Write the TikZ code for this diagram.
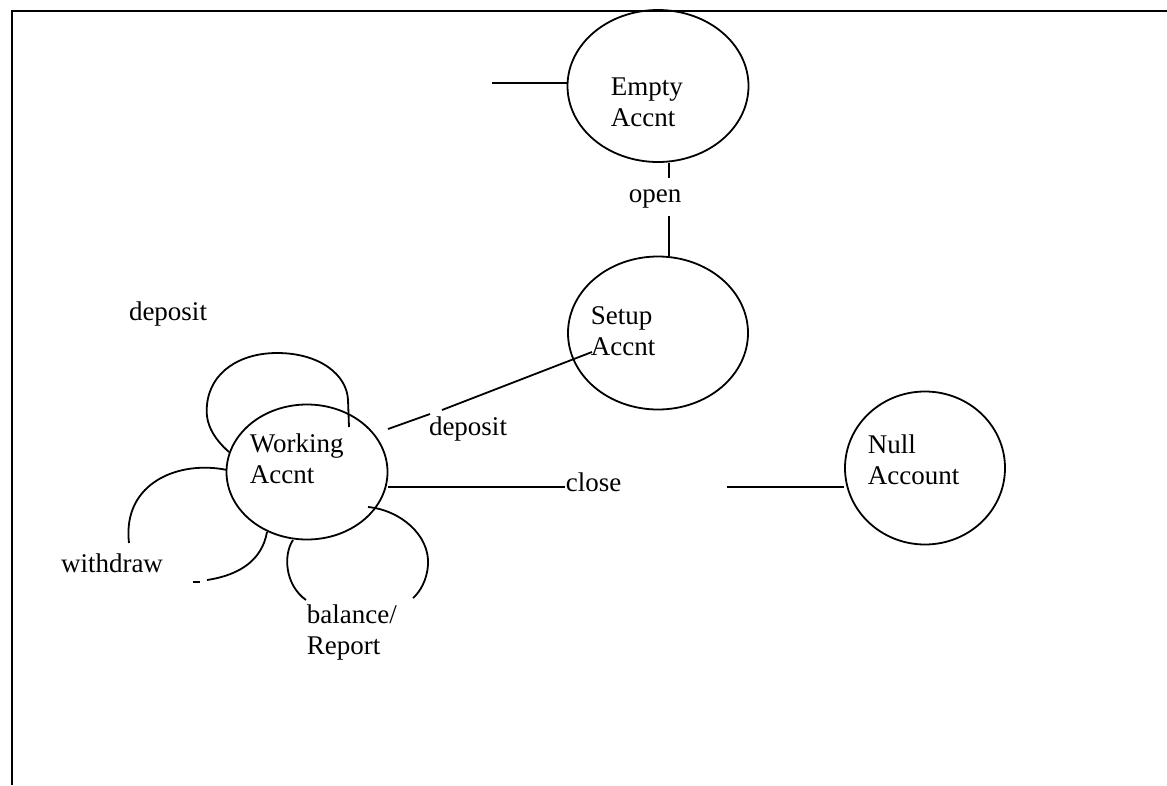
\documentclass[tikz,border=0pt]{standalone}
\usepackage{fontspec}
\setmainfont{Liberation Serif}
\usetikzlibrary{shapes.geometric}
\begin{document}
\begin{tikzpicture}[x=1pt, y=-1pt, line width=1.8pt,
  state/.style={ellipse, draw, inner sep=0pt},
  lbl/.style={inner sep=0pt, font=\fontsize{27}{31}\selectfont},
  statetext/.style={lbl, anchor=west, align=left}]
\useasboundingbox (0,0) rectangle (1167,785);

% page frame (top and left edges)
\draw[line width=2.2pt] (12,785) -- (12,11) -- (1167,11);

% states
\node[state, minimum width=181pt, minimum height=152pt] (empty) at (658,86) {};
\node[state, minimum width=180pt, minimum height=153pt] (setup) at (658,333) {};
\node[state, minimum width=161pt, minimum height=135pt] (working) at (307,472) {};
\node[state, minimum width=160pt, minimum height=153pt] (null) at (925,468) {};

\node[statetext] (emptyT) at (610,102) {Empty\\Accnt};
\node[statetext] (setupT) at (590,331) {Setup\\Accnt};
\node[statetext] (workingT) at (249,459) {Working\\Accnt};
\node[statetext] (nullT) at (867,460) {Null\\Account};

% entry line into Empty Accnt
\coordinate (e0) at (492,83);
\draw (e0) -- (e0 -| empty.west);

% open: Empty -> Setup
\coordinate (o1) at (669,178);
\coordinate (o2) at (669,216);
\node[lbl] (openL) at (655,199) {open};
\draw (o1 |- empty.south) -- (o1);
\draw (o2) -- (o2 |- setup.north);

% deposit: Working -> Setup
\coordinate (d1) at (388,429);
\coordinate (d2) at (430,414);
\coordinate (d3) at (442,410);
\coordinate (d4) at (592,352);
\draw (d1) -- (d2);
\draw (d3) -- (d4);
\node[lbl] (depL) at (468,429) {deposit};

% close: Working -> Null
\node[lbl, anchor=west] (closeL) at (565,482) {close};
\coordinate (c0) at (388,487);
\coordinate (c1) at (727,487);
\draw (c0) -- (closeL.west |- c0);
\draw (c1) -- (c1 -| null.west);

% self loops on Working Accnt
\node[lbl] (depTop) at (168,314) {deposit};
\draw (229,452) .. controls (212,437) and (205,422) .. (207,405)
      .. controls (210,372) and (240,353) .. (277,353)
      .. controls (320,353) and (347,375) .. (348,400) -- (349,427);

\node[lbl] (withL) at (112,563) {withdraw};
\draw (227,470) .. controls (180,460) and (122,482) .. (129,543);
\draw (193,582) -- (200,582);
\draw (207,580) .. controls (240,575) and (262,560) .. (267,532);

\node[lbl, anchor=west, align=left] (balL) at (306,632) {balance/\\Report};
\draw (293,540) .. controls (283,555) and (285,585) .. (306,600);
\draw (368,507) .. controls (400,510) and (430,535) .. (428,565)
      .. controls (427,580) and (420,592) .. (413,598);
\end{tikzpicture}
\end{document}
